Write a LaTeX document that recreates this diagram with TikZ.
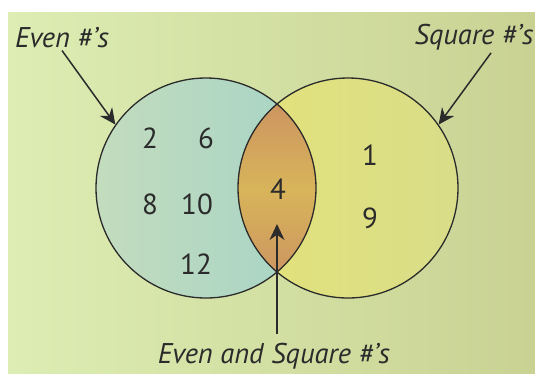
\documentclass[tikz,border=0pt]{standalone}
\usepackage{fontspec}
\setmainfont{PT Sans}
\usepackage{tikz}
\usetikzlibrary{arrows.meta,backgrounds}
\definecolor{bgleft}{HTML}{DDEDB3}
\definecolor{bgright}{HTML}{C9D293}
\definecolor{evenleft}{HTML}{C3DCBE}
\definecolor{evenright}{HTML}{A6D4C6}
\definecolor{sqleft}{HTML}{E3E27A}
\definecolor{sqright}{HTML}{D9DD88}
\definecolor{lensedge}{HTML}{CC9461}
\definecolor{lensmid}{HTML}{D8B45A}
\definecolor{inkgray}{HTML}{2B2B2B}

\begin{document}
\begin{tikzpicture}[
  x=1pt, y=-1pt,
  setcirc/.style={draw=inkgray, line width=1.3pt, circle, minimum size=220pt, inner sep=0pt},
  num/.style={text=inkgray, font=\fontsize{29}{32}\selectfont},
  lbl/.style={text=inkgray, font=\fontsize{28.5}{32}\selectfont\itshape, anchor=base, inner sep=3pt},
  arr/.style={-{Stealth[length=16pt, width=15pt]}, line width=1.5pt, draw=inkgray}
]
\useasboundingbox (0,0) rectangle (535,373);
\node[setcirc] (evenset) at (206,188) {};
\node[setcirc] (squareset) at (348,188) {};
\node[num] (two) at (150,138) {2};
\node[num] (six) at (206,138) {6};
\node[num] (eight) at (150,204) {8};
\node[num] (ten) at (197,204) {10};
\node[num] (twelve) at (196,264) {12};
\node[num] (four) at (278,189) {4};
\node[num] (one) at (370,155) {1};
\node[num] (nine) at (370,218) {9};
\node[lbl] (evenlbl) at (62,47) {Even \#’s};
\node[lbl] (squarelbl) at (474,44) {Square \#’s};
\node[lbl] (bothlbl) at (274,363) {Even and Square \#’s};
\coordinate (lenstip) at (277,224);
\draw[arr] (evenlbl.south) -- (evenset.145);
\draw[arr] ([xshift=17pt]squarelbl.south) -- (squareset.35);
\draw[arr, shorten <=6pt] (bothlbl.north -| lenstip) -- (lenstip);
\begin{scope}[on background layer]
  \fill[white] (0,0) rectangle (535,373);
  \fill[left color=bgleft, right color=bgright] (8,12) rectangle (535,373);
  \fill[left color=evenleft, right color=evenright] (evenset.center) circle[radius=110pt];
  \fill[left color=sqleft, right color=sqright] (squareset.center) circle[radius=110pt];
  \begin{scope}
    \clip (evenset.center) circle[radius=110pt];
    \clip (squareset.center) circle[radius=110pt];
    \fill[top color=lensedge, bottom color=lensedge, middle color=lensmid] (230,100) rectangle (320,280);
  \end{scope}
\end{scope}
\end{tikzpicture}
\end{document}
